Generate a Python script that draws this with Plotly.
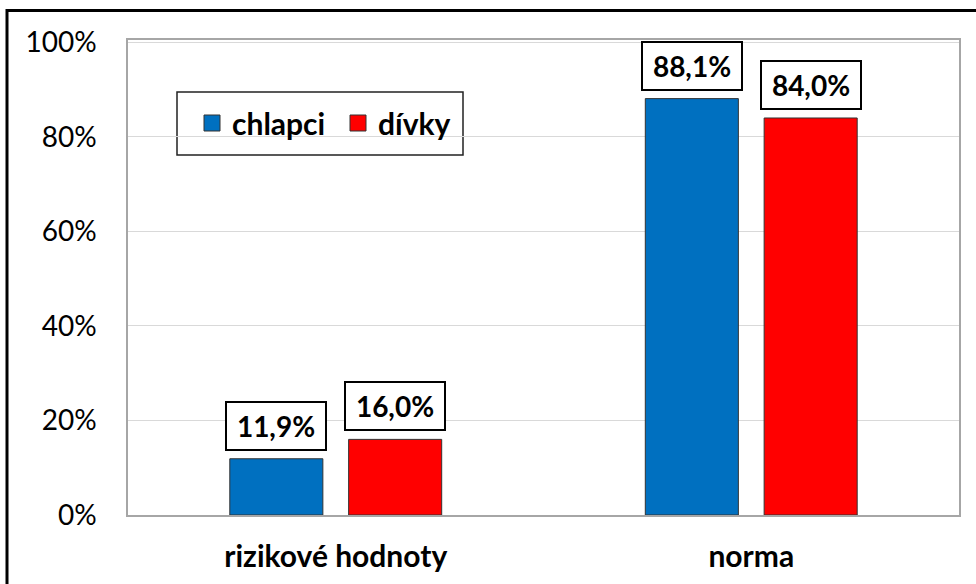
import plotly.graph_objects as go

# data
categories = ["rizikové hodnoty", "norma"]
chlapci = [11.9, 88.1]
divky = [16.0, 84.0]
series_names = ["chlapci", "dívky"]
series_colors = ["#0070C0", "#FF0000"]
tick_vals = [0, 20, 40, 60, 80, 100]
tick_text = ["0%", "20%", "40%", "60%", "80%", "100%"]

W, H = 976, 584
L, R, T, B = 128, 17, 40, 69
pw, ph = W - L - R, H - T - B

FONT = "Lato"


def px_x(p):
    return (p - L) / pw


def px_y(p):
    return (H - B - p) / ph


fig = go.Figure()
for vals, name, col, off in [(chlapci, series_names[0], series_colors[0], -0.255),
                             (divky, series_names[1], series_colors[1], 0.031)]:
    fig.add_trace(go.Bar(
        x=categories, y=vals, name=name, showlegend=False,
        width=0.224, offset=off,
        marker=dict(color=col, line=dict(color="#333333", width=1)),
    ))
    # legend entry with a bigger square symbol
    fig.add_trace(go.Scatter(
        x=[None], y=[None], name=f"<b>{name}</b>", mode="markers",
        marker=dict(symbol="square", size=16, color=col,
                    line=dict(color="#333333", width=1)),
    ))

# value labels in boxes
def fmt(v):
    return f"{v:.1f}".replace(".", ",") + "%"

for vals, off in [(chlapci, -0.143), (divky, 0.143)]:
    for i, v in enumerate(vals):
        fig.add_annotation(
            x=i + off, y=v, xref="x", yref="y",
            text=f"<b>{fmt(v)}</b>", showarrow=False,
            yanchor="bottom", yshift=8,
            width=88, height=36,
            font=dict(family=FONT, size=28, color="black"),
            bgcolor="white", bordercolor="black", borderwidth=2, borderpad=5,
        )

# legend box
fig.add_shape(type="rect", xref="paper", yref="paper",
              x0=px_x(177), x1=px_x(463), y0=px_y(155), y1=px_y(92),
              line=dict(color="#222222", width=1.5), fillcolor="white",
              layer="below")

# outer black frame (runs off the right/bottom edge like the reference)
fig.add_shape(type="rect", xref="paper", yref="paper",
              x0=px_x(7), x1=px_x(W + 10), y0=px_y(H + 10), y1=px_y(10.5),
              line=dict(color="black", width=3), fillcolor="rgba(0,0,0,0)",
              layer="above")

fig.update_layout(
    width=W, height=H,
    margin=dict(l=L, r=R, t=T, b=B),
    paper_bgcolor="white", plot_bgcolor="rgba(0,0,0,0)",
    barmode="group",
    showlegend=True,
    legend=dict(
        orientation="h", x=px_x(192), y=px_y(97), xanchor="left", yanchor="top",
        bgcolor="rgba(0,0,0,0)", borderwidth=0,
        font=dict(family=FONT, size=30, color="black"),
        itemwidth=30, entrywidthmode="pixels", entrywidth=101,
    ),
    xaxis=dict(
        range=[-0.5, 1.5], showgrid=False,
        showline=True, linecolor="#a6a6a6", linewidth=1.5, mirror=True,
        ticks="", tickfont=dict(family=FONT, size=30, color="black"),
        ticklabelstandoff=14,
        tickvals=[0, 1], ticktext=[f"<b>{c}</b>" for c in categories],
    ),
    yaxis=dict(
        range=[0, 100.5], tickvals=tick_vals, ticktext=tick_text,
        showgrid=True, gridcolor="#d9d9d9", gridwidth=1,
        showline=True, linecolor="#a6a6a6", linewidth=1.5, mirror=True,
        zeroline=False, ticks="",
        tickfont=dict(family=FONT, size=28, color="black"),
        ticklabelstandoff=24,
    ),
)

fig.write_html("out.html", config={"displayModeBar": False},
               post_script="document.body.style.margin='0';")
